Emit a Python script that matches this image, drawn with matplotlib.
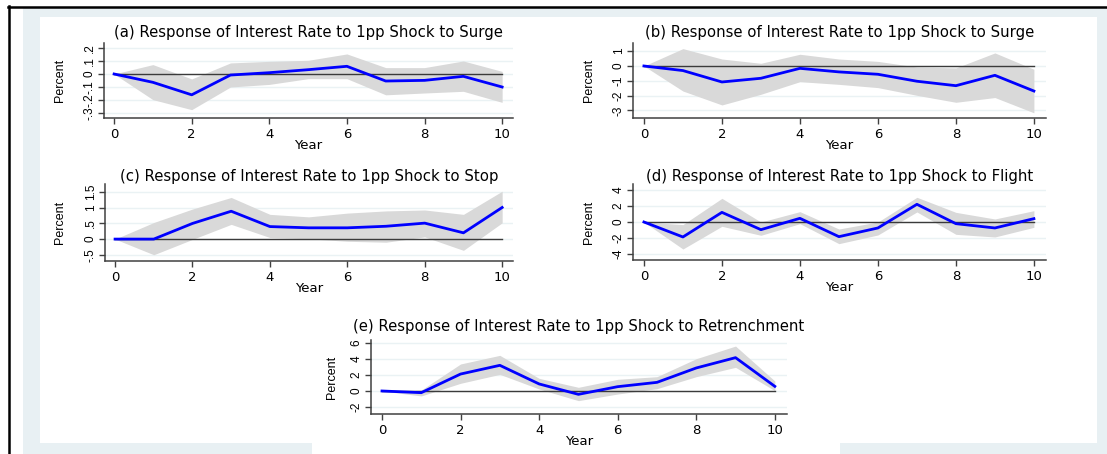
import matplotlib
matplotlib.use("Agg")
import matplotlib.pyplot as plt
from matplotlib.patches import Rectangle
from matplotlib.lines import Line2D
import numpy as np

plt.rcParams['font.family'] = ['DejaVu Sans']

years = [0, 1, 2, 3, 4, 5, 6, 7, 8, 9, 10]

titles = [
    "(a) Response of Interest Rate to 1pp Shock to Surge",
    "(b) Response of Interest Rate to 1pp Shock to Surge",
    "(c) Response of Interest Rate to 1pp Shock to Stop",
    "(d) Response of Interest Rate to 1pp Shock to Flight",
    "(e) Response of Interest Rate to 1pp Shock to Retrenchment",
]

irf_a = [0, -0.064, -0.16, -0.008, 0.01, 0.033, 0.059, -0.054, -0.049, -0.018, -0.10]
up_a = [0, 0.072, -0.038, 0.085, 0.097, 0.105, 0.154, 0.049, 0.049, 0.10, 0.02]
lo_a = [0, -0.197, -0.274, -0.10, -0.08, -0.036, -0.036, -0.16, -0.146, -0.133, -0.218]

irf_b = [0, -0.31, -1.08, -0.83, -0.16, -0.40, -0.56, -1.03, -1.33, -0.63, -1.69]
up_b = [0, 1.17, 0.47, 0.18, 0.79, 0.47, 0.31, -0.07, -0.13, 0.88, -0.22]
lo_b = [0, -1.69, -2.63, -1.91, -1.06, -1.24, -1.46, -1.98, -2.45, -2.13, -3.16]

irf_c = [0, 0.0, 0.50, 0.89, 0.40, 0.36, 0.36, 0.41, 0.51, 0.20, 1.01]
up_c = [0, 0.53, 0.96, 1.33, 0.79, 0.71, 0.83, 0.90, 0.93, 0.79, 1.53]
lo_c = [0, -0.50, -0.01, 0.47, 0.05, 0.01, -0.07, -0.10, 0.07, -0.36, 0.52]

irf_d = [0, -1.88, 1.21, -0.96, 0.46, -1.84, -0.75, 2.22, -0.21, -0.75, 0.42]
up_d = [0, -0.33, 2.97, 0.0, 1.30, -0.88, 0.0, 3.10, 1.21, 0.38, 1.42]
lo_d = [0, -3.39, -0.54, -1.67, -0.21, -2.72, -1.63, 1.26, -1.55, -1.88, -0.67]

irf_e = [0, -0.21, 2.12, 3.21, 0.88, -0.42, 0.54, 1.08, 2.88, 4.17, 0.58]
up_e = [0, 0.12, 3.38, 4.46, 1.58, 0.46, 1.46, 1.79, 4.04, 5.62, 1.25]
lo_e = [0, -0.62, 0.96, 2.08, 0.25, -1.21, -0.38, 0.29, 1.79, 2.96, 0.04]

yticks_a = [-0.3, -0.2, -0.1, 0, 0.1, 0.2]
ylabels_a = ["-.3", "-.2", "-.1", "0", ".1", ".2"]
yticks_b = [-3, -2, -1, 0, 1]
ylabels_b = ["-3", "-2", "-1", "0", "1"]
yticks_c = [-0.5, 0, 0.5, 1, 1.5]
ylabels_c = ["-.5", "0", ".5", "1", "1.5"]
yticks_d = [-4, -2, 0, 2, 4]
ylabels_d = ["-4", "-2", "0", "2", "4"]
yticks_e = [-2, 0, 2, 4, 6]
ylabels_e = ["-2", "0", "2", "4", "6"]
xticks = [0, 2, 4, 6, 8, 10]

W, H = 1107, 454
fig = plt.figure(figsize=(W / 100, H / 100), dpi=100)
fig.patch.set_facecolor('white')


def frect(x0, y0, x1, y1, color):
    fig.patches.append(Rectangle((x0 / W, 1 - y1 / H), (x1 - x0) / W, (y1 - y0) / H,
                                 transform=fig.transFigure, facecolor=color,
                                 edgecolor='none', zorder=-5))


# background frames
frect(23, 8, W, H, '#e8f0f3')
frect(40, 17, 1097, 443, 'white')
frect(312, 443, 840, H, 'white')
fig.lines.append(Line2D([8.5 / W, 8.5 / W], [0, 1 - 6 / H], transform=fig.transFigure,
                        color='black', lw=1.8, zorder=-4))
fig.lines.append(Line2D([8 / W, 1], [1 - 7 / H, 1 - 7 / H], transform=fig.transFigure,
                        color='black', lw=1.8, zorder=-4))

panels = [
    dict(box=(104, 513, 43, 118), xlim=(-0.26, 10.28), ylim=(-0.338, 0.238),
         irf=irf_a, up=up_a, lo=lo_a, yt=yticks_a, yl=ylabels_a, lab=66, ty=33, t=titles[0]),
    dict(box=(633, 1046, 43, 118), xlim=(-0.28, 10.31), ylim=(-3.51, 1.55),
         irf=irf_b, up=up_b, lo=lo_b, yt=yticks_b, yl=ylabels_b, lab=595, ty=33, t=titles[1]),
    dict(box=(105, 513, 184, 261), xlim=(-0.26, 10.28), ylim=(-0.70, 1.76),
         irf=irf_c, up=up_c, lo=lo_c, yt=yticks_c, yl=ylabels_c, lab=66, ty=177, t=titles[2]),
    dict(box=(633, 1046, 184, 260), xlim=(-0.28, 10.31), ylim=(-4.77, 4.77),
         irf=irf_d, up=up_d, lo=lo_d, yt=yticks_d, yl=ylabels_d, lab=595, ty=177, t=titles[3]),
    dict(box=(371, 787, 340, 414), xlim=(-0.28, 10.31), ylim=(-2.88, 6.38),
         irf=irf_e, up=up_e, lo=lo_e, yt=yticks_e, yl=ylabels_e, lab=338, ty=327, t=titles[4]),
]

spine_col = '#404040'
narrow = ['Liberation Sans', 'DejaVu Sans']
for p in panels:
    l, r, t, b = p['box']
    ax = fig.add_axes([l / W, 1 - b / H, (r - l) / W, (b - t) / H])
    ax.set_facecolor('none')
    ax.set_xlim(*p['xlim'])
    ax.set_ylim(*p['ylim'])
    for yv in p['yt']:
        ax.axhline(yv, color='#eaf2f4', lw=1.0, zorder=0)
    ax.fill_between(years, p['lo'], p['up'], color='#d9d9d9', lw=0, zorder=1)
    ax.plot([0, 10], [0, 0], color='#3a3a3a', lw=1.0, zorder=2)
    ax.plot(years, p['irf'], color='#0000ff', lw=2.0, zorder=3)
    ax.set_xticks(xticks)
    ax.set_xticklabels([str(v) for v in xticks], fontsize=9.5)
    ax.set_yticks(p['yt'])
    ax.set_yticklabels(p['yl'], rotation=90, va='center', family=narrow, fontsize=8.5)
    for s in ['top', 'right']:
        ax.spines[s].set_visible(False)
    for s in ['left', 'bottom']:
        ax.spines[s].set_color(spine_col)
        ax.spines[s].set_linewidth(1.1)
    ax.tick_params(axis='both', direction='out', length=4, width=1.0, color=spine_col,
                   labelcolor='black')
    ax.tick_params(axis='y', pad=2)
    ax.tick_params(axis='x', pad=3)
    ax.set_ylabel('Percent', fontsize=9, family=narrow)
    ax.yaxis.set_label_coords((p['lab'] - l) / (r - l), 0.5)
    ax.set_xlabel('Year', fontsize=9.5)
    ax.xaxis.set_label_coords(0.5, -(21) / (b - t))
    ax.text(0.5, 1 + (t - p['ty']) / (b - t), p['t'], transform=ax.transAxes,
            ha='center', va='center', fontsize=10.7)

fig.savefig('out.png', dpi=100, facecolor=fig.get_facecolor())
